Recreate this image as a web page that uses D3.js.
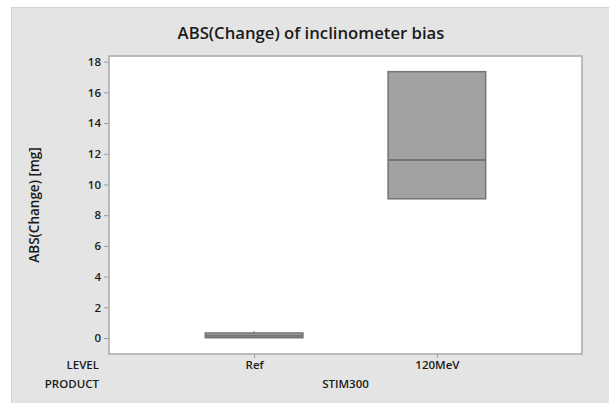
<!DOCTYPE html>
<html>
<head>
<meta charset="utf-8">
<script src="https://cdn.jsdelivr.net/npm/d3@7"></script>
<style>
  body { margin: 0; background: #ffffff; }
  text { font-family: "Open Sans", "Noto Sans", sans-serif; fill: #1a1a1a; }
</style>
</head>
<body>
<div id="chart"></div>
<script>
// data
const levels = ["Ref", "120MeV"];
const q1 = [0.02, 9.07];
const medians = [0.15, 11.6];
const q3 = [0.33, 17.35];
const whiskerLow = [0.0, 9.07];
const whiskerHigh = [0.45, 17.35];
const yTicks = [0, 2, 4, 6, 8, 10, 12, 14, 16, 18];
const product = "STIM300";

window.onload = function () {
  const width = 609;
  const height = 403;
  const plot = { left: 109, right: 582, top: 56, bottom: 354 };

  const svg = d3.select("#chart")
    .append("svg")
    .attr("width", width)
    .attr("height", height);

  // grey panel
  svg.append("rect")
    .attr("x", 11.5)
    .attr("y", 7.5)
    .attr("width", width)
    .attr("height", height)
    .attr("fill", "#e4e4e4")
    .attr("stroke", "#d2d2d2");

  svg.append("rect")
    .attr("x", plot.left)
    .attr("y", plot.top)
    .attr("width", plot.right - plot.left)
    .attr("height", plot.bottom - plot.top)
    .attr("fill", "#ffffff");

  const xScale = d3.scalePoint().domain(levels).range([plot.left, plot.right]).padding(0.794);
  const yScale = d3.scaleLinear().domain([-1.04, 18.37]).range([plot.bottom, plot.top]);

  const yAxis = d3.axisLeft(yScale).tickValues(yTicks).tickSize(5).tickPadding(3);
  const gy = svg.append("g")
    .attr("transform", `translate(${plot.left}, 0)`)
    .call(yAxis);
  gy.select(".domain").remove();
  gy.selectAll("line").attr("stroke", "#9a9a9a");
  gy.selectAll("text")
    .style("font-size", "11.5px")
    .style("font-weight", "600")
    .attr("fill", "#222");

  const xAxis = d3.axisBottom(xScale).tickSize(4).tickPadding(3);
  const gx = svg.append("g")
    .attr("transform", `translate(0, ${plot.bottom})`)
    .call(xAxis);
  gx.select(".domain").remove();
  gx.selectAll("line").attr("stroke", "#9a9a9a");
  gx.selectAll("text")
    .style("font-size", "11.5px")
    .style("font-weight", "600")
    .attr("fill", "#222");

  const boxW = 97.6;
  const boxes = svg.append("g");

  levels.forEach((lv, i) => {
    const cx = xScale(lv);
    boxes.append("line")
      .attr("x1", cx).attr("x2", cx)
      .attr("y1", yScale(q3[i])).attr("y2", yScale(whiskerHigh[i]))
      .attr("stroke", "#777").attr("stroke-width", 1);
    boxes.append("line")
      .attr("x1", cx).attr("x2", cx)
      .attr("y1", yScale(q1[i])).attr("y2", yScale(whiskerLow[i]))
      .attr("stroke", "#777").attr("stroke-width", 1);
    boxes.append("rect")
      .attr("x", cx - boxW / 2)
      .attr("y", yScale(q3[i]))
      .attr("width", boxW)
      .attr("height", yScale(q1[i]) - yScale(q3[i]))
      .attr("fill", "#a2a2a2")
      .attr("stroke", "#747474")
      .attr("stroke-width", 1.5);
    boxes.append("line")
      .attr("x1", cx - boxW / 2).attr("x2", cx + boxW / 2)
      .attr("y1", yScale(medians[i])).attr("y2", yScale(medians[i]))
      .attr("stroke", "#747474").attr("stroke-width", 2);
  });

  // plot frame
  svg.append("rect")
    .attr("x", plot.left)
    .attr("y", plot.top)
    .attr("width", plot.right - plot.left)
    .attr("height", plot.bottom - plot.top)
    .attr("fill", "none")
    .attr("stroke", "#a8a8a8")
    .attr("stroke-width", 1.5);

  svg.append("text")
    .attr("x", 311)
    .attr("y", 39)
    .attr("text-anchor", "middle")
    .style("font-size", "16.7px")
    .style("font-weight", "600")
    .text("ABS(Change) of inclinometer bias");

  svg.append("text")
    .attr("transform", `translate(39, ${(plot.top + plot.bottom) / 2}) rotate(-90)`)
    .attr("text-anchor", "middle")
    .style("font-size", "13.5px")
    .style("font-weight", "600")
    .text("ABS(Change) [mg]");

  svg.append("text")
    .attr("x", 99)
    .attr("y", 369)
    .attr("text-anchor", "end")
    .style("font-size", "11.5px")
    .style("font-weight", "600")
    .text("LEVEL");

  svg.append("text")
    .attr("x", 99)
    .attr("y", 388)
    .attr("text-anchor", "end")
    .style("font-size", "11.5px")
    .style("font-weight", "600")
    .text("PRODUCT");

  svg.append("text")
    .attr("x", (xScale(levels[0]) + xScale(levels[1])) / 2)
    .attr("y", 388)
    .attr("text-anchor", "middle")
    .style("font-size", "11.5px")
    .style("font-weight", "600")
    .text(product);
};
</script>
</body>
</html>
